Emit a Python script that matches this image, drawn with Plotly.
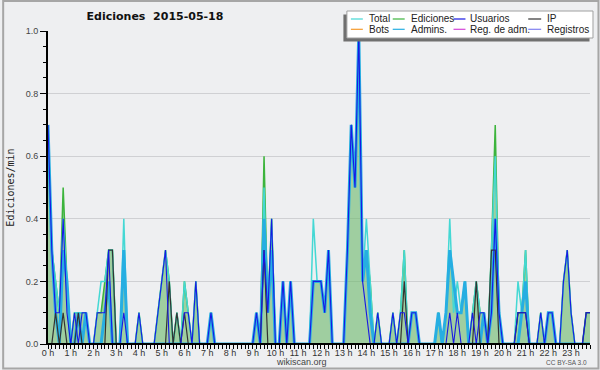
import plotly.graph_objects as go

# ---------------- data (10-minute bins, edits per minute) ----------------
minutes = list(range(0, 24 * 60, 10))
hours = [m / 60 for m in minutes]
hour_ticks = list(range(24))
hour_labels = [f"{h} h" for h in hour_ticks]

total = [
    0.7, 0.3, 0.2, 0.1, 0.4, 0.2,   0, 0.1, 0.1, 0.1, 0.1, 0,   0, 0.1, 0.2, 0.2, 0.3, 0.3,   0, 0, 0.4, 0, 0, 0,
    0.1, 0, 0, 0, 0, 0.1,   0.2, 0.3, 0.2, 0, 0.1, 0,   0.2, 0.1, 0, 0.2, 0, 0,   0, 0.1, 0, 0, 0, 0,
    0, 0, 0, 0, 0, 0,   0, 0.1, 0, 0.5, 0.1, 0.4,   0, 0, 0.2, 0, 0.2, 0,   0, 0, 0, 0, 0.4, 0.2,
    0.2, 0.1, 0.3, 0, 0, 0,   0, 0.3, 0.7, 0.5, 1.0, 0.2,   0.4, 0.2, 0, 0.1, 0, 0,   0, 0.1, 0, 0.1, 0.3, 0,
    0.1, 0.1, 0, 0, 0, 0,   0, 0.1, 0, 0.1, 0.4, 0.1,   0.2, 0.1, 0.2, 0, 0.1, 0.2,   0.1, 0.1, 0, 0.3, 0.6, 0.1,
    0, 0, 0, 0, 0.2, 0.1,   0.3, 0, 0, 0, 0.1, 0,   0.1, 0.1, 0, 0, 0.2, 0.3,   0.1, 0, 0, 0, 0.1, 0.1,
]
ediciones = [
    0.7, 0.3, 0.2, 0.1, 0.5, 0.2,   0, 0.1, 0.1, 0.1, 0.1, 0,   0, 0.1, 0.1, 0.2, 0.3, 0.3,   0, 0, 0.3, 0, 0, 0,
    0.1, 0, 0, 0, 0, 0.1,   0.2, 0.3, 0.2, 0, 0.1, 0,   0.2, 0.1, 0, 0.2, 0, 0,   0, 0.1, 0, 0, 0, 0,
    0, 0, 0, 0, 0, 0,   0, 0.1, 0, 0.6, 0.1, 0.4,   0, 0, 0.2, 0, 0.2, 0,   0, 0, 0, 0, 0.2, 0.2,
    0.2, 0.1, 0.3, 0, 0, 0,   0, 0.3, 0.7, 0.5, 1.0, 0.2,   0.3, 0.2, 0, 0.1, 0, 0,   0, 0.1, 0, 0.1, 0.3, 0,
    0.1, 0.1, 0, 0, 0, 0,   0, 0.1, 0, 0.1, 0.3, 0.2,   0.1, 0.1, 0.2, 0, 0.1, 0.2,   0.1, 0.1, 0, 0.3, 0.7, 0.1,
    0, 0, 0, 0, 0.1, 0.1,   0.3, 0, 0, 0, 0.1, 0,   0.1, 0.1, 0, 0, 0.2, 0.3,   0.1, 0, 0, 0, 0.1, 0.1,
]
usuarios = [
    0.7, 0.3, 0.1, 0.1, 0.4, 0.1,   0, 0.1, 0, 0.1, 0.1, 0,   0, 0.1, 0.1, 0.1, 0.3, 0,   0, 0, 0.1, 0, 0, 0,
    0.1, 0, 0, 0, 0, 0.1,   0.2, 0.3, 0, 0, 0, 0,   0.1, 0.1, 0, 0.2, 0, 0,   0, 0.1, 0, 0, 0, 0,
    0, 0, 0, 0, 0, 0,   0, 0.1, 0, 0.3, 0.1, 0.4,   0, 0, 0.2, 0, 0.2, 0,   0, 0, 0, 0, 0.2, 0.2,
    0.2, 0.1, 0.3, 0, 0, 0,   0, 0.3, 0.7, 0.5, 1.0, 0.2,   0.1, 0, 0, 0.1, 0, 0,   0, 0.1, 0, 0.1, 0.1, 0,
    0.1, 0.1, 0, 0, 0, 0,   0, 0, 0, 0, 0.1, 0,   0.1, 0, 0, 0, 0.1, 0,   0.1, 0.1, 0, 0.1, 0.4, 0.1,
    0, 0, 0, 0, 0.1, 0.1,   0.1, 0, 0, 0, 0.1, 0,   0.1, 0.1, 0, 0, 0.2, 0.3,   0.1, 0, 0, 0, 0.1, 0.1,
]
ip = [
    0, 0, 0.1, 0, 0.1, 0,   0, 0, 0.1, 0, 0, 0,   0, 0, 0, 0, 0.3, 0.3,   0, 0, 0, 0, 0, 0,
    0, 0, 0, 0, 0, 0,   0, 0, 0.2, 0, 0.1, 0,   0.1, 0, 0, 0, 0, 0,   0, 0, 0, 0, 0, 0,
    0, 0, 0, 0, 0, 0,   0, 0, 0, 0.3, 0, 0,   0, 0, 0, 0, 0, 0,   0, 0, 0, 0, 0, 0,
    0, 0, 0, 0, 0, 0,   0, 0, 0, 0, 0, 0,   0, 0, 0, 0, 0, 0,   0, 0, 0, 0, 0.2, 0,
    0, 0, 0, 0, 0, 0,   0, 0, 0, 0, 0, 0,   0, 0, 0, 0, 0, 0.2,   0, 0, 0, 0.3, 0.3, 0,
    0, 0, 0, 0, 0.1, 0.1,   0.1, 0, 0, 0, 0, 0,   0, 0, 0, 0, 0, 0,   0, 0, 0, 0, 0.1, 0.1,
]
admins = [
    0.7, 0.3, 0.1, 0, 0.3, 0.2,   0, 0, 0.1, 0, 0.1, 0,   0, 0, 0, 0.1, 0.2, 0,   0, 0, 0.3, 0, 0, 0,
    0, 0, 0, 0, 0, 0,   0, 0, 0, 0, 0, 0,   0, 0, 0, 0, 0, 0,   0, 0.1, 0, 0, 0, 0,
    0, 0, 0, 0, 0, 0,   0, 0.1, 0, 0.4, 0.1, 0.3,   0, 0, 0.2, 0, 0.2, 0,   0, 0, 0, 0, 0.2, 0.2,
    0.2, 0.1, 0.3, 0, 0, 0,   0, 0.3, 0.7, 0.5, 1.0, 0.2,   0.3, 0.1, 0, 0, 0, 0,   0, 0, 0, 0, 0, 0,
    0.1, 0.1, 0, 0, 0, 0,   0, 0.1, 0, 0.1, 0.3, 0.2,   0.1, 0.1, 0.2, 0, 0, 0,   0, 0.1, 0, 0.1, 0.4, 0.1,
    0, 0, 0, 0, 0, 0.1,   0.2, 0, 0, 0, 0, 0,   0.1, 0.1, 0, 0, 0, 0,   0, 0, 0, 0, 0, 0,
]
bots = [0] * 144
reg_adm = [0] * 144
registros = [0] * 144

series_colors = {
    "Total": "#44d8d4",
    "Ediciones": "#3cb43c",
    "Usuarios": "#1818e4",
    "IP": "#333333",
    "Bots": "#f59a2c",
    "Admins.": "#26aee2",
    "Reg. de adm.": "#d444d8",
    "Registros": "#8080f0",
}

# ---------------- geometry helpers ----------------
W, H = 600, 370
L, R, T, B = 46, 10, 31, 26
PW, PH = W - L - R, H - T - B


def px(x):
    return (x - L) / PW


def py(y):
    return (H - B - y) / PH


fig = go.Figure()

fig.add_trace(go.Scatter(x=hours, y=ediciones, name="Ediciones", mode="lines",
                         line=dict(color=series_colors["Ediciones"], width=1.5),
                         fill="tozeroy", fillcolor="rgba(110,185,110,0.62)", showlegend=False))
fig.add_trace(go.Scatter(x=hours, y=total, name="Total", mode="lines",
                         line=dict(color=series_colors["Total"], width=1.5), showlegend=False))
for nm, vals in (("Bots", bots), ("Reg. de adm.", reg_adm), ("Registros", registros)):
    fig.add_trace(go.Scatter(x=hours, y=vals, name=nm, mode="lines",
                             line=dict(color=series_colors[nm], width=1), showlegend=False))
fig.add_trace(go.Scatter(x=hours, y=admins, name="Admins.", mode="lines",
                         line=dict(color=series_colors["Admins."], width=3), showlegend=False))
fig.add_trace(go.Scatter(x=hours, y=ip, name="IP", mode="lines",
                         line=dict(color=series_colors["IP"], width=1.2), showlegend=False))
fig.add_trace(go.Scatter(x=hours, y=usuarios, name="Usuarios", mode="lines",
                         line=dict(color=series_colors["Usuarios"], width=1.1), showlegend=False))

tick_font = dict(family="Liberation Sans", size=9, color="#333333")

shapes = [
    # baseline over the data
    dict(type="line", xref="x", yref="y", x0=hours[0], x1=hours[-1], y0=0, y1=0,
         line=dict(color="black", width=2), layer="above"),
    # outer frame
    dict(type="rect", xref="paper", yref="paper", x0=px(1), x1=px(598.5), y0=py(368.5), y1=py(1),
         line=dict(color="#a6a6a6", width=2), fillcolor="rgba(0,0,0,0)", layer="above"),
    # legend shadow and box
    dict(type="rect", xref="paper", yref="paper", x0=px(342.5), x1=px(589.5), y0=py(41.5), y1=py(14.5),
         line=dict(width=0), fillcolor="#707070", layer="above"),
    dict(type="rect", xref="paper", yref="paper", x0=px(346), x1=px(593), y0=py(38), y1=py(11),
         line=dict(color="#a0a0a0", width=1), fillcolor="white", layer="above"),
]

annotations = []
legend_rows = [["Total", "Ediciones", "Usuarios", "IP"], ["Bots", "Admins.", "Reg. de adm.", "Registros"]]
row_y = [19, 29.3]
col_sample = [(350, 362), (392, 404), (453, 465), (528, 541)]
col_text = [366, 408, 468, 545]
for r, row in enumerate(legend_rows):
    for c, nm in enumerate(row):
        shapes.append(dict(type="line", xref="paper", yref="paper",
                           x0=px(col_sample[c][0]), x1=px(col_sample[c][1]),
                           y0=py(row_y[r]), y1=py(row_y[r]),
                           line=dict(color=series_colors[nm], width=1.2), layer="above"))
        annotations.append(dict(text=nm, xref="paper", yref="paper", x=px(col_text[c]), y=py(row_y[r]),
                                xanchor="left", yanchor="middle", showarrow=False,
                                font=dict(family="Liberation Sans", size=10, color="#222222")))

annotations.append(dict(text="wikiscan.org", xref="paper", yref="paper", x=px(300.5), y=py(362),
                        xanchor="center", yanchor="middle", showarrow=False,
                        font=dict(family="Liberation Sans", size=9, color="#444444")))
annotations.append(dict(text="CC BY-SA 3.0", xref="paper", yref="paper", x=px(589), y=py(362.5),
                        xanchor="right", yanchor="middle", showarrow=False,
                        font=dict(family="Liberation Sans", size=6.5, color="#555555")))

fig.update_layout(
    width=W, height=H,
    margin=dict(l=L, r=R, t=T, b=B, pad=0),
    paper_bgcolor="#eeeff1", plot_bgcolor="#eeeff1",
    title=dict(text="Ediciones\u00a0 2015-05-18", x=155 / W, xanchor="center", xref="container",
               y=1 - 16.5 / H, yanchor="middle", yref="container",
               font=dict(family="DejaVu Sans", size=11, color="#111111", weight="bold")),
    xaxis=dict(range=[hours[0], hours[-1]], tickmode="array", tickvals=hour_ticks, ticktext=hour_labels,
               ticks="outside", ticklen=4, tickwidth=1, tickcolor="black",
               ticklabelstandoff=-4,
               showgrid=False, zeroline=False, showline=True, linecolor="black", linewidth=1,
               tickfont=tick_font, tickangle=0,
               minor=dict(tick0=0, dtick=1 / 6, ticks="outside", ticklen=4, tickwidth=1,
                          tickcolor="black", showgrid=False)),
    yaxis=dict(range=[0, 1], tickmode="linear", tick0=0, dtick=0.2, tickformat=".1f",
               ticks="outside", ticklen=6, tickwidth=1, tickcolor="black",
               showgrid=True, gridcolor="#cfd0d3", gridwidth=1,
               zeroline=False, showline=True, linecolor="black", linewidth=2,
               tickfont=dict(family="Liberation Sans", size=9, color="#444444"),
               minor=dict(tick0=0, dtick=0.05, ticks="outside", ticklen=3, tickwidth=1,
                          tickcolor="black", showgrid=False),
               title=dict(text="Ediciones/min", standoff=9,
                          font=dict(family="DejaVu Sans Mono", size=10, color="#222222"))),
    shapes=shapes,
    annotations=annotations,
    showlegend=False,
)

fig.write_html("out.html", config={"displayModeBar": False},
               post_script="document.body.style.margin='0';document.body.style.overflow='hidden';")
